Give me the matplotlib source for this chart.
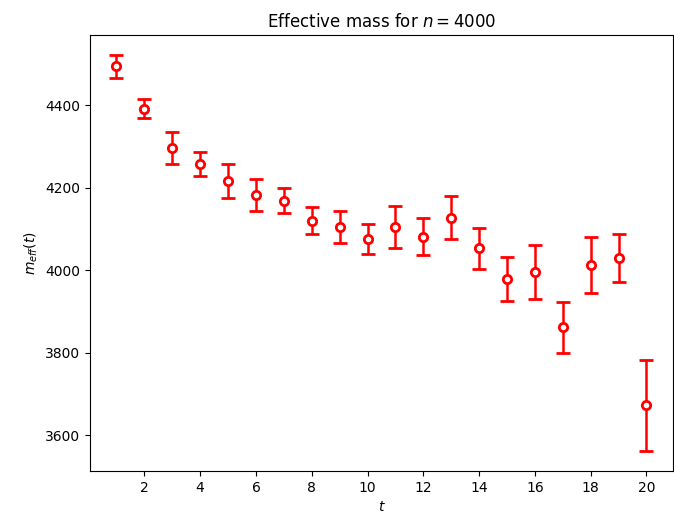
import matplotlib
matplotlib.use("Agg")
import matplotlib.pyplot as plt
import numpy as np

# effective mass per time slice, with jackknife-style errors
t = np.arange(1, 21)
m_eff = [4495, 4392, 4297, 4257, 4216, 4183, 4169, 4120, 4105, 4076,
         4105, 4082, 4128, 4053, 3979, 3996, 3862, 4013, 4030, 3672]
m_err = [28, 23, 38, 29, 41, 38, 30, 33, 39, 37,
         50, 46, 52, 49, 54, 66, 62, 69, 59, 111]

fig, ax = plt.subplots(figsize=(6.74, 5.2), dpi=100)
fig.subplots_adjust(left=0.1335, right=0.9985, top=0.9327, bottom=0.0942)
ax.errorbar(t, m_eff, yerr=m_err, fmt="o", color="red", mfc="white", mec="red",
            ms=6, mew=2, elinewidth=1.8, capsize=5, capthick=1.8)
ax.set_xticks(range(2, 21, 2))
ax.set_yticks([3600, 3800, 4000, 4200, 4400])
ax.set_xlabel("$t$")
ax.set_ylabel("$m_{eff}(t)$")
ax.set_title("Effective mass for $n = 4000$")
fig.savefig("out.png", dpi=100)
